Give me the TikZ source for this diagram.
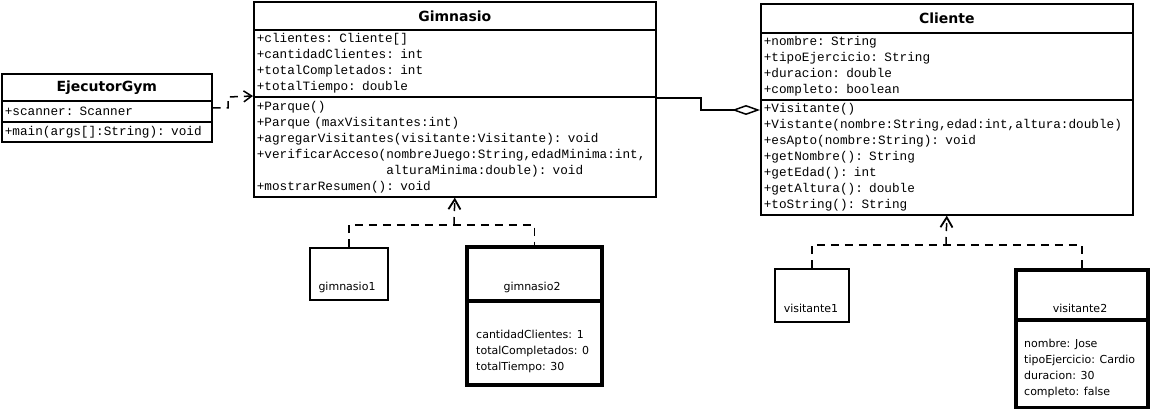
\documentclass[tikz,border=0pt]{standalone}
\usepackage{fontspec}
\setmainfont{DejaVu Sans}
\newfontfamily\monof{Liberation Mono}
\usetikzlibrary{arrows.meta,calc}
\tikzset{
  cls/.style={draw, line width=1.6pt, anchor=north west, inner xsep=3pt, inner ysep=0pt, align=left},
  ttl/.style={cls, align=center, font=\fontsize{14}{16}\selectfont\bfseries},
  mem/.style={cls, font=\monof\fontsize{12.7}{16}\selectfont},
  obj/.style={draw, line width=1.6pt, anchor=north west, inner sep=0pt},
  objthick/.style={draw, line width=3.5pt, anchor=north west, inner sep=0pt},
  lbl/.style={font=\fontsize{11}{16}\selectfont, inner sep=0pt, align=left},
  dsh/.style={line width=1.5pt, dash pattern=on 8pt off 6pt},
  dep/.style={dsh, -{Straight Barb[length=8pt,width=11pt,line width=1.5pt]}},
  real/.style={dsh, -{Straight Barb[length=10pt,width=12pt,line width=1.8pt]}},
  agg/.style={line width=1.5pt, -{Diamond[open,length=28pt,width=10pt,line width=1.5pt]}}
}
\begin{document}
\begin{tikzpicture}[x=1pt,y=-1pt]
\useasboundingbox (0,0) rectangle (1150,409);
% EjecutorGym
\node[ttl, text width=204pt, minimum height=27pt] (eT) at (1,73) {EjecutorGym};
\node[mem, text width=204pt, minimum height=21pt] (eA) at (1,100) {+scanner: Scanner};
\node[mem, text width=204pt, minimum height=20pt] (eM) at (1,121) {+main(args[]:String): void};
% Gimnasio
\node[ttl, text width=396pt, minimum height=28pt] (gT) at (253,1) {Gimnasio};
\node[mem, text width=396pt, minimum height=67pt] (gA) at (253,29) {+clientes: Cliente[]\\+cantidadClientes: int\\+totalCompletados: int\\+totalTiempo: double};
\node[mem, text width=396pt, minimum height=100pt] (gM) at (253,96) {+Parque()\\+Parque (maxVisitantes:int)\\+agregarVisitantes(visitante:Visitante): void\\+verificarAcceso(nombreJuego:String,edadMinima:int,\\\phantom{+verificarAcceso(}alturaMinima:double): void\\+mostrarResumen(): void};
% Cliente
\node[ttl, text width=366pt, minimum height=29pt] (cT) at (760,3) {Cliente};
\node[mem, text width=366pt, minimum height=67pt] (cA) at (760,32) {+nombre: String\\+tipoEjercicio: String\\+duracion: double\\+completo: boolean};
\node[mem, text width=366pt, minimum height=115pt] (cM) at (760,99) {+Visitante()\\+Vistante(nombre:String,edad:int,altura:double)\\+esApto(nombre:String): void\\+getNombre(): String\\+getEdad(): int\\+getAltura(): double\\+toString(): String};
% instances of Gimnasio
\node[obj, minimum width=78pt, minimum height=52pt] (g1) at (309,247) {};
\node[lbl] (g1l) at (347,287) {gimnasio1};
\node[objthick, minimum width=135pt, minimum height=54pt] (g2t) at (465,245) {};
\node[objthick, minimum width=135pt, minimum height=84pt] (g2b) at (465,299) {};
\node[lbl] (g2l) at (532,287) {gimnasio2};
\node[lbl, anchor=west] (g2a) at (476,351) {cantidadClientes: 1\\totalCompletados: 0\\totalTiempo: 30};
% instances of Cliente
\node[obj, minimum width=74pt, minimum height=53pt] (v1) at (774,268) {};
\node[lbl] (v1l) at (811,308) {visitante1};
\node[objthick, minimum width=132pt, minimum height=50pt] (v2t) at (1014,268) {};
\node[objthick, minimum width=132pt, minimum height=88pt] (v2b) at (1014,318) {};
\node[lbl] (v2l) at (1080,308) {visitante2};
\node[lbl, anchor=west] (v2a) at (1024,368) {nombre: Jose\\tipoEjercicio: Cardio\\duracion: 30\\completo: false};
% dependency
\coordinate (d1) at (228,97);
\draw[dep] ([yshift=3.5pt]eA.east) -| (d1) -- (gM.north west);
% aggregation
\coordinate (a1) at (701,98);
\coordinate (a2) at (701,110);
\draw[agg] (gM.north east |- a1) -- (a1) -- (a2) -- (cM.west |- a2);
% realization Gimnasio
\coordinate (j1) at (454,225);
\draw[dsh] (g1.north) -- (g1.north |- j1) -- (g2t.north |- j1) -- (g2t.north);
\draw[real] (j1) -- (gM.south);
% realization Cliente
\coordinate (j2) at (946,245);
\draw[dsh] (v1.north) -- (v1.north |- j2) -- (v2t.north |- j2) -- (v2t.north);
\draw[real] (j2) -- (cM.south);
\end{tikzpicture}
\end{document}
